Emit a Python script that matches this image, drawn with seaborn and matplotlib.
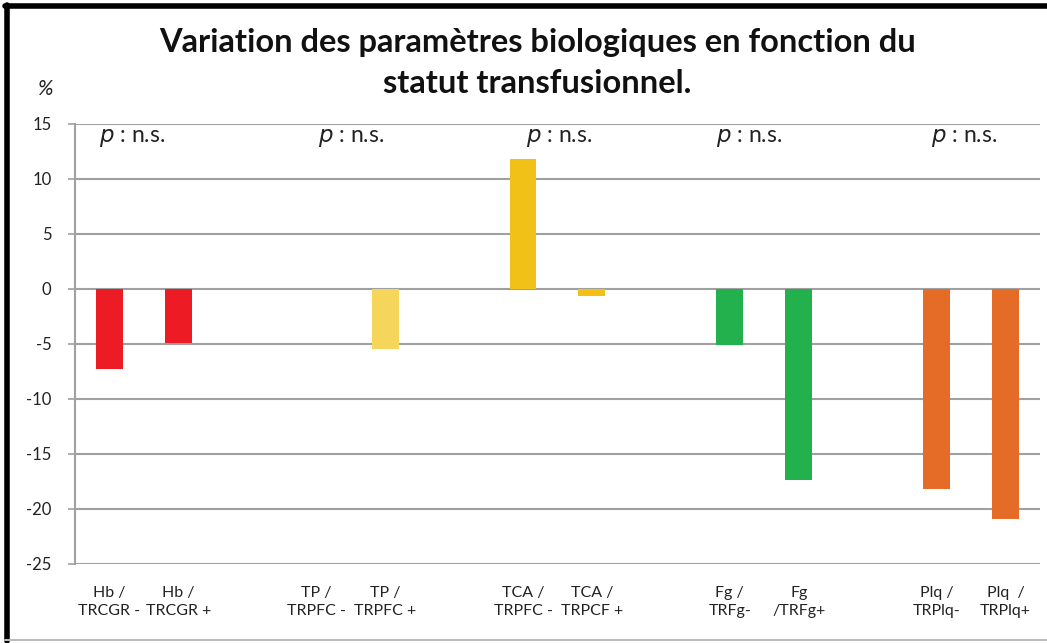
import matplotlib
matplotlib.use("Agg")
import matplotlib.pyplot as plt
import seaborn as sns
import pandas as pd
from matplotlib.lines import Line2D

sns.set_theme(style="white")
plt.rcParams['font.family'] = ['Lato', 'DejaVu Sans']

# ---- data ----
slots = ["Hb-", "Hb+", "gap1", "TP-", "TP+", "gap2", "TCA-", "TCA+", "gap3",
         "Fg-", "Fg+", "gap4", "Plq-", "Plq+"]
tick_labels = ["Hb /\nTRCGR -", "Hb /\nTRCGR +", "", "TP /\nTRPFC -", "TP /\nTRPFC +", "",
               "TCA /\nTRPFC -", "TCA /\nTRPCF +", "", "Fg /\nTRFg-", "Fg\n/TRFg+", "",
               "Plq /\nTRPlq-", "Plq  /\nTRPlq+"]
bar_keys = ["Hb-", "Hb+", "TP-", "TP+", "TCA-", "TCA+", "Fg-", "Fg+", "Plq-", "Plq+"]
values = [-7.3, -4.9, 0.0, -5.45, 11.8, -0.6, -5.1, -17.4, -18.2, -20.9]
colors = ["#ED1C24", "#ED1C24", "#F5D55A", "#F5D55A", "#F2C117", "#F2C117",
          "#23B14D", "#23B14D", "#E46C26", "#E46C26"]
p_positions = [0.33, 3.5, 6.53, 9.28, 12.4]
p_text = "n.s."
yticks = [15, 10, 5, 0, -5, -10, -15, -20, -25]
title = "Variation des paramètres biologiques en fonction du\nstatut transfusionnel."

df = pd.DataFrame({"key": bar_keys, "value": values})
palette = dict(zip(bar_keys, colors))

fig = plt.figure(figsize=(10.47, 6.43), dpi=100)
ax = fig.add_axes([0.0716, 0.1229, 0.9217, 0.6843])

sns.barplot(data=df, x="key", y="value", hue="key", order=slots, palette=palette,
            width=0.39, legend=False, ax=ax, saturation=1, edgecolor=None, linewidth=0)

ax.set_ylim(-25, 15)
ax.set_xlim(-0.5, 13.5)
ax.set_yticks(yticks)
ax.set_yticklabels([str(t) for t in yticks], fontsize=12, color="#222222")
ax.set_xticks(range(len(slots)))
ax.set_xticklabels(tick_labels, fontsize=11.5, color="#222222", linespacing=1.35)
ax.tick_params(axis="x", length=0, pad=16)
ax.tick_params(axis="y", length=5, width=1.2, color="#A0A0A0", direction="out", pad=12, left=True)
for t in yticks:
    ax.axhline(t, color="#A0A0A0", lw=1.5, zorder=0)
ax.set_axisbelow(True)
for s in ["top", "right", "bottom"]:
    ax.spines[s].set_visible(False)
ax.spines["left"].set_color("#A0A0A0")
ax.spines["left"].set_linewidth(1.5)
ax.set_xlabel("")
ax.set_ylabel("")

for xp in p_positions:
    ax.text(xp, 13.7, r"$\it{p}$" + " : " + p_text, ha="center", va="center", fontsize=16.5,
            color="#222222")

fig.text(0.513, 0.902, title, ha="center", va="center", fontsize=23.5, fontweight="bold",
         color="#111111", linespacing=1.5)
fig.text(0.043, 0.862, "%", ha="center", va="center", fontsize=15, style="italic",
         color="#222222")

# frame
fig.add_artist(Line2D([0.0067, 0.0067], [0.003, 0.992], color="black", lw=4,
                      transform=fig.transFigure))
fig.add_artist(Line2D([0.005, 1.0], [0.991, 0.991], color="black", lw=4,
                      transform=fig.transFigure))
fig.add_artist(Line2D([0.005, 1.0], [0.004, 0.004], color="#BBBBBB", lw=1.5,
                      transform=fig.transFigure))

fig.savefig("out.png", dpi=100, facecolor="white")
